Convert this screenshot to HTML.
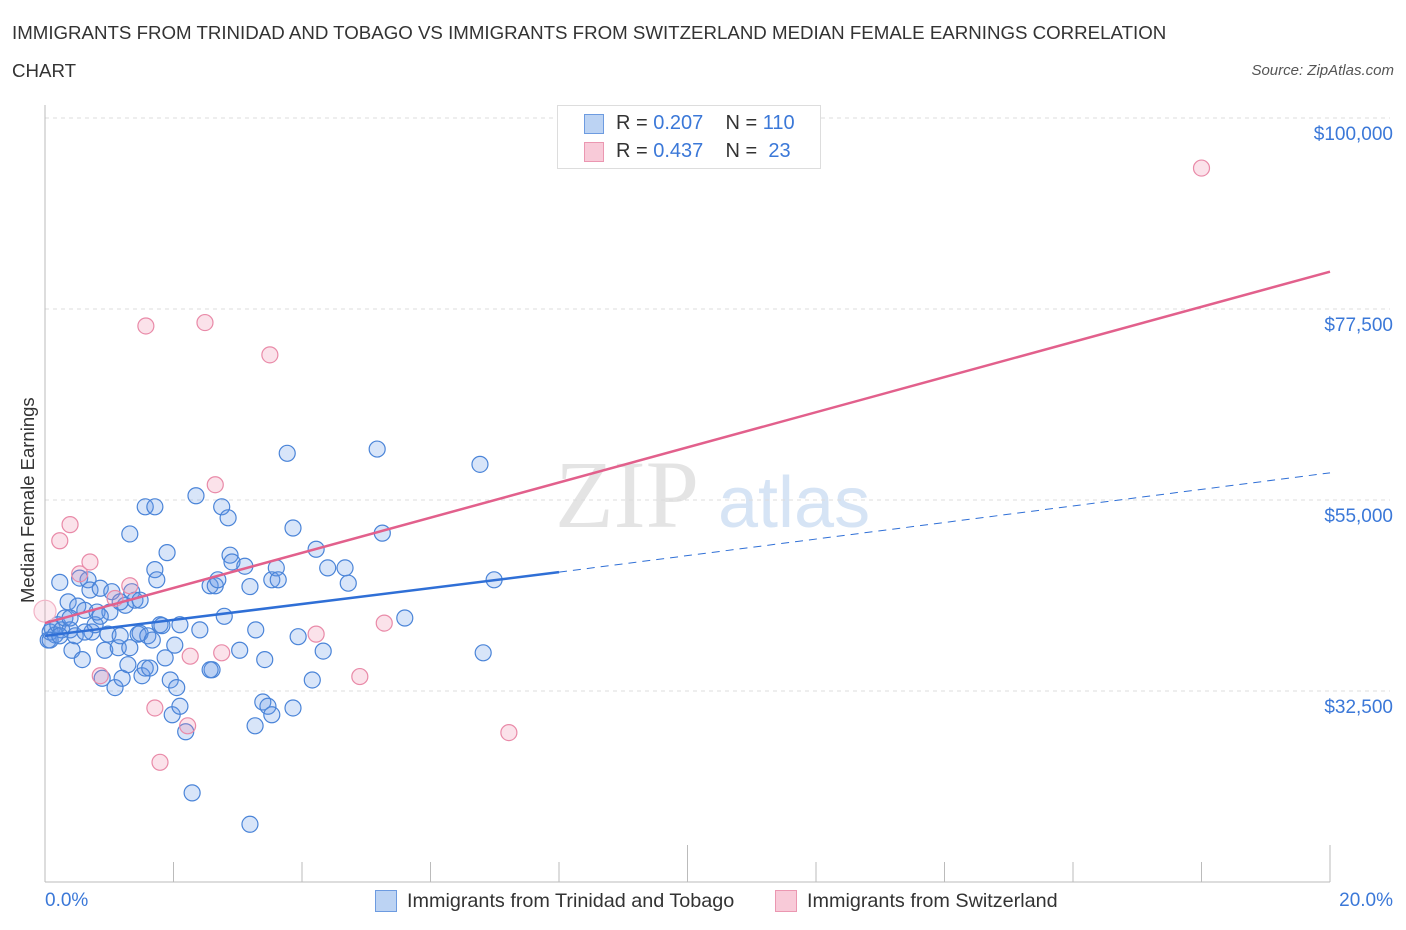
<!DOCTYPE html>
<html><head><meta charset="utf-8"><style>
body{margin:0;background:#fff;font-family:"Liberation Sans",sans-serif;}
#wrap{position:relative;width:1406px;height:930px;overflow:hidden;}
.t{position:absolute;white-space:nowrap;}
</style></head><body>
<div id="wrap">
<div class="t" style="left:12px;top:22px;font-size:18.7px;color:#333;">IMMIGRANTS FROM TRINIDAD AND TOBAGO VS IMMIGRANTS FROM SWITZERLAND MEDIAN FEMALE EARNINGS CORRELATION</div>
<div class="t" style="left:12px;top:60px;font-size:18.7px;color:#333;">CHART</div>
<div class="t" style="right:12px;top:62px;font-size:15px;color:#555;font-style:italic;">Source: ZipAtlas.com</div>
<svg id="svg" width="1406" height="930" style="position:absolute;left:0;top:0"></svg>
</div>
<script>
const blueX=[0.05,0.08,0.11,0.16,0.2,0.23,0.26,0.31,0.36,0.39,0.42,0.47,0.51,0.54,0.58,0.62,0.67,0.70,0.73,0.78,0.81,0.86,0.89,0.93,0.98,1.01,1.04,1.09,1.14,1.17,1.2,1.25,1.29,1.32,1.35,1.4,1.45,1.48,1.51,1.56,1.6,1.63,1.67,1.71,1.74,1.79,1.82,1.87,1.9,1.95,1.98,2.02,2.05,2.1,2.19,2.29,2.35,2.41,2.57,2.6,2.65,2.69,2.75,2.79,2.85,2.88,2.91,3.03,3.11,3.19,3.27,3.19,3.28,3.39,3.42,3.47,3.53,3.53,3.6,3.63,3.77,3.86,3.86,3.94,4.16,4.22,4.33,4.4,4.67,4.72,5.17,5.25,5.6,6.77,6.82,6.99,1.56,1.71,1.32,0.08,0.23,0.39,0.62,0.86,1.17,1.48,2.1,2.57];
const blueY=[38.5,39.45,39.9,39.1,40.3,45.3,39.7,41.1,43.0,39.7,37.3,39.0,42.5,45.8,36.2,42.0,45.6,44.4,39.45,40.3,41.8,44.6,34.0,37.3,39.2,41.8,44.2,32.9,37.6,39.0,34.0,42.6,35.6,37.6,44.2,43.2,39.2,39.3,34.3,35.2,39.0,35.2,38.5,46.8,45.6,40.3,40.2,36.4,48.8,33.8,29.7,37.9,32.9,30.7,27.7,20.5,55.5,39.7,44.9,35.0,44.9,45.6,54.2,41.3,52.9,48.5,47.7,37.3,47.2,44.8,28.4,16.8,39.7,31.2,36.2,30.7,29.7,45.6,47.0,45.6,60.5,51.7,30.5,38.9,33.8,49.2,37.2,47.0,47.0,45.2,61.0,51.1,41.1,59.2,37.0,45.6,54.2,54.2,51.0,38.5,39.0,41.1,39.45,41.3,43.0,43.2,40.3,35.0];
const pinkX=[0.0,0.23,0.39,0.54,0.70,0.86,1.09,1.32,1.57,1.71,1.79,2.22,2.26,2.49,2.65,2.75,3.5,4.22,4.9,5.28,7.22,18.0];
const pinkY=[41.9,50.2,52.1,46.3,47.7,34.3,43.4,44.9,75.5,30.5,24.1,28.4,36.6,75.9,56.8,37.0,72.1,39.2,34.2,40.5,27.6,94.1];
const blueTrend=[[0,39.0],[8.0,46.5]],blueDash=[[8.0,46.5],[20,58.2]],pinkTrend=[[0,40.5],[20,81.9]];
const yTicks=[100000,77500,55000,32500];const yTickLabels=["$100,000","$77,500","$55,000","$32,500"];
const X=v=>45+v*1285/20, Y=k=>118+(100-k)*191/22.5;
const s=document.getElementById('svg');const NS='http://www.w3.org/2000/svg';
function mk(t,a,p){const e=document.createElementNS(NS,t);for(const k in a)e.setAttribute(k,a[k]);(p||s).appendChild(e);return e;}
let wm=mk('text',{x:555,y:527,'font-size':96,fill:'#e4e4e4','font-family':'Liberation Serif,serif'});wm.textContent='ZIP';


let wm2=mk('text',{x:718,y:527,'font-size':72,fill:'#d6e4f5','font-family':'Liberation Sans,sans-serif'});wm2.textContent='atlas';


yTicks.forEach((v,i)=>{const y=Y(v/1000);
 const g=mk('line',{x1:45,x2:1390,y1:y,y2:y,stroke:'#ddd','stroke-dasharray':'4,4'});
 
 
 const t=mk('text',{x:1393,y:y+22,'text-anchor':'end','font-size':19,fill:'#3b78d8'});t.textContent=yTickLabels[i];
 
 });
mk('line',{x1:45,x2:45,y1:105,y2:882,stroke:'#bbb'});
mk('line',{x1:45,x2:1330,y1:882,y2:882,stroke:'#bbb'});
for(let i=1;i<=10;i++){const x=X(i*2);const tk=mk('line',{x1:x,x2:x,y1:i==5||i==10?845:862,y2:882,stroke:'#bbb'});
 
 }
function line(p,c,d,n){const l=mk('line',{x1:X(p[0][0]),y1:Y(p[0][1]),x2:X(p[1][0]),y2:Y(p[1][1]),stroke:c,'stroke-width':d?1:2.5});if(d)l.setAttribute('stroke-dasharray','8,6');
 
 }
blueX.forEach((x,i)=>{const c=mk('circle',{cx:X(x),cy:Y(blueY[i]),r:8,fill:'rgba(100,150,230,0.25)',stroke:'#4a84d8','stroke-width':1.2});
 
 });
pinkX.forEach((x,i)=>{const c=mk('circle',{cx:X(x),cy:Y(pinkY[i]),r:i==0?11:8,fill:i==0?'rgba(240,140,170,0.18)':'rgba(240,140,170,0.25)',stroke:i==0?'#f2b3c6':'#e98aa8','stroke-width':1.2});
 
 });
line(blueTrend,'#2f6fd6',false,'trinidad-trend-line');
line(blueDash,'#2f6fd6',true,'trinidad-trend-extension');
line(pinkTrend,'#e2608c',false,'switzerland-trend-line');
</script>
<div class="t" style="left:45px;top:890px;font-size:19px;color:#3b78d8">0.0%</div>
<div class="t" style="right:13px;top:890px;font-size:19px;color:#3b78d8">20.0%</div>
<div class="t" style="left:17px;top:603px;font-size:18.5px;color:#333;transform:rotate(-90deg);transform-origin:0 0;">Median Female Earnings</div>
<div style="position:absolute;left:557px;top:105px;width:262px;height:62px;border:1px solid #ddd;background:#fff;font-size:20px;color:#333">
<div class="t" style="left:26px;top:8px;width:18px;height:18px;background:#bcd3f3;border:1px solid #6d9be0"></div>
<div class="t" style="left:58px;top:6px">R = <span style="color:#3b78d8">0.207</span>&nbsp;&nbsp;&nbsp; N = <span style="color:#3b78d8">110</span></div>
<div class="t" style="left:26px;top:36px;width:18px;height:18px;background:#f8cad8;border:1px solid #eb97b1"></div>
<div class="t" style="left:58px;top:34px">R = <span style="color:#3b78d8">0.437</span>&nbsp;&nbsp;&nbsp; N = &nbsp;<span style="color:#3b78d8">23</span></div>
</div>
<div class="t" style="left:375px;top:890px;width:20px;height:20px;background:#bcd3f3;border:1px solid #6d9be0"></div>
<div class="t" style="left:407px;top:890px;font-size:19.8px;color:#333">Immigrants from Trinidad and Tobago</div>
<div class="t" style="left:775px;top:890px;width:20px;height:20px;background:#f8cad8;border:1px solid #eb97b1"></div>
<div class="t" style="left:807px;top:890px;font-size:19.8px;color:#333">Immigrants from Switzerland</div>
</body></html>
